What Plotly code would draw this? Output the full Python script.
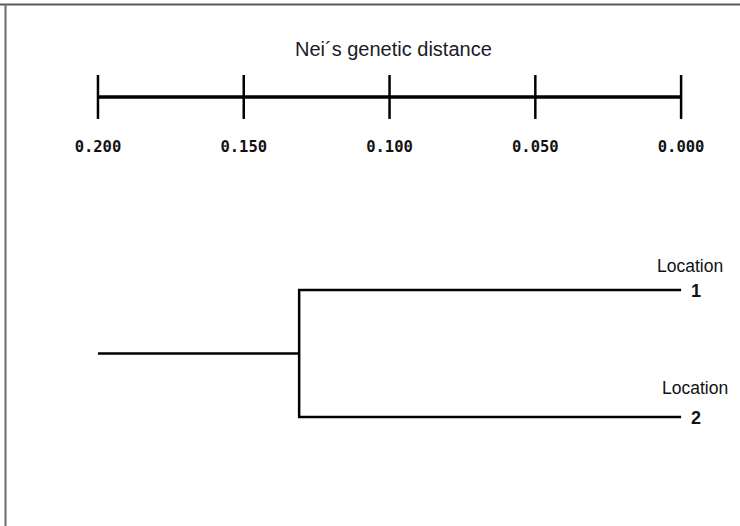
import plotly.graph_objects as go

# ---- data ----
scale_ticks = [0.200, 0.150, 0.100, 0.050, 0.000]
tick_labels = ["0.200", "0.150", "0.100", "0.050", "0.000"]
leaf_names = ["Location", "Location"]
leaf_ids = ["1", "2"]
leaf_pos = [1, 2]
leaf_dist = [0.0, 0.0]
node_height = 0.131
root_height = 0.200
axis_title = "Nei\u00b4s genetic distance"

# ---- layout constants ----
W, H = 740, 526
X_RANGE = [0.2336, -0.0202]
Y_RANGE = [2.8583, -1.2835]
bar_y = -0.520
tick_half = 0.173
label_y = -0.118
title_y = -0.897

fig = go.Figure()

# scale bar
fig.add_trace(go.Scatter(x=[max(scale_ticks), min(scale_ticks)], y=[bar_y, bar_y],
                         mode="lines", line=dict(color="black", width=3.5),
                         hoverinfo="skip", showlegend=False))
tx, ty = [], []
for t in scale_ticks:
    tx += [t, t, None]
    ty += [bar_y - tick_half, bar_y + tick_half, None]
fig.add_trace(go.Scatter(x=tx, y=ty, mode="lines", line=dict(color="black", width=2.5),
                         hoverinfo="skip", showlegend=False))
fig.add_trace(go.Scatter(x=scale_ticks, y=[label_y] * len(scale_ticks), mode="text",
                         text=["<b>" + t + "</b>" for t in tick_labels],
                         textfont=dict(family="DejaVu Sans Mono", size=15.5, color="#111"),
                         hoverinfo="skip", showlegend=False))

# dendrogram
mid = sum(leaf_pos) / len(leaf_pos)
fig.add_trace(go.Scatter(x=[leaf_dist[0], node_height, node_height, leaf_dist[1]],
                         y=[leaf_pos[0], leaf_pos[0], leaf_pos[1], leaf_pos[1]],
                         mode="lines", line=dict(color="black", width=2.5),
                         hoverinfo="skip", showlegend=False))
fig.add_trace(go.Scatter(x=[root_height, node_height], y=[mid, mid],
                         mode="lines", line=dict(color="black", width=2.5),
                         hoverinfo="skip", showlegend=False))

annotations = [dict(x=(max(scale_ticks) + min(scale_ticks)) / 2, y=title_y, xref="x", yref="y",
                    text=axis_title, showarrow=False, xshift=4,
                    font=dict(family="Liberation Sans", size=20, color="#1a1a28"))]
name_shift = [9, 14]
for name, lid, p, d, s in zip(leaf_names, leaf_ids, leaf_pos, leaf_dist, name_shift):
    annotations.append(dict(x=d, y=p, xref="x", yref="y", text=name, showarrow=False,
                            xshift=s, yshift=24 if p == 1 else 29,
                            font=dict(family="Liberation Sans", size=17.5, color="#111")))
    annotations.append(dict(x=d, y=p, xref="x", yref="y", text="<b>" + lid + "</b>", showarrow=False,
                            xshift=15, yshift=-1,
                            font=dict(family="Liberation Sans", size=18, color="#111")))

shapes = [
    dict(type="line", xref="paper", yref="paper", x0=0, x1=1, y0=1 - 4.5 / H, y1=1 - 4.5 / H,
         line=dict(color="#5a5a5a", width=2)),
    dict(type="line", xref="paper", yref="paper", x0=5.5 / W, x1=5.5 / W, y0=0, y1=1 - 4 / H,
         line=dict(color="#6a6a6a", width=2)),
]

fig.update_layout(
    width=W, height=H, margin=dict(l=0, r=0, t=0, b=0),
    paper_bgcolor="white", plot_bgcolor="white",
    xaxis=dict(range=X_RANGE, visible=False, fixedrange=True),
    yaxis=dict(range=Y_RANGE, visible=False, fixedrange=True),
    annotations=annotations, shapes=shapes, showlegend=False,
)

fig.write_html("out.html", config={"displayModeBar": False})
